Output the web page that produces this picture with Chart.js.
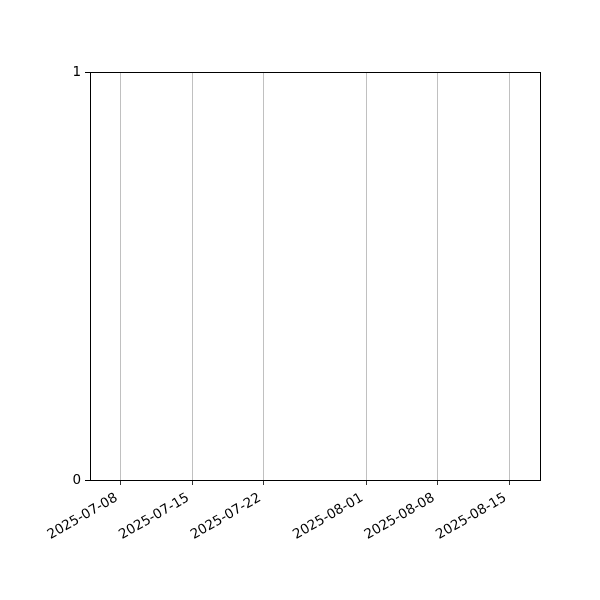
<!DOCTYPE html>
<html>
<head>
<meta charset="utf-8">
<script src="https://cdn.jsdelivr.net/npm/chart.js@4/dist/chart.umd.min.js"></script>
<style>
  body { margin: 0; background: #fff; }
  canvas { display: block; }
</style>
</head>
<body>
<canvas id="chart" width="600" height="600"></canvas>
<script>
// Axis range and tick dates (empty plot, no series)
const xRange = ['2025-07-05', '2025-08-18'];
const xTickDates = ['2025-07-08', '2025-07-15', '2025-07-22', '2025-08-01', '2025-08-08', '2025-08-15'];
const yTicks = [0, 1];
const seriesValues = [];

const DAY = 86400000;
const base = Date.parse(xRange[0]);
function toDay(s) { return (Date.parse(s) - base) / DAY; }

// top and right spines
const frame = {
    id: 'frame',
    afterDraw(chart) {
        const a = chart.chartArea;
        const c = chart.ctx;
        c.save();
        c.strokeStyle = '#000';
        c.lineWidth = 1;
        c.strokeRect(a.left + 0.5, a.top + 0.5, a.right - a.left, a.bottom - a.top);
        c.restore();
    }
};

new Chart(document.getElementById('chart'), {
    type: 'scatter',
    data: { datasets: [{ data: seriesValues }] },
    options: {
        responsive: false,
        animation: false,
        layout: { padding: { left: 0, top: 72, right: 60, bottom: 0 } },
        plugins: { legend: { display: false }, tooltip: { enabled: false } },
        scales: {
            x: {
                type: 'linear',
                min: 0,
                max: toDay(xRange[1]),
                afterBuildTicks(scale) {
                    scale.ticks = xTickDates.map(d => ({ value: toDay(d) }));
                },
                afterFit(scale) { scale.height = 120; },
                ticks: {
                    autoSkip: false,
                    minRotation: 30,
                    maxRotation: 30,
                    padding: 5,
                    labelOffset: -4,
                    color: '#000',
                    font: { family: 'DejaVu Sans', size: 13.5 },
                    callback: (v, i) => xTickDates[i]
                },
                grid: {
                    color: '#b0b0b0',
                    lineWidth: 0.8,
                    tickColor: '#000',
                    tickLength: 5
                },
                border: { color: '#000', width: 1 }
            },
            y: {
                min: 0,
                max: 1,
                afterBuildTicks(scale) {
                    scale.ticks = yTicks.map(v => ({ value: v }));
                },
                afterFit(scale) { scale.width = 90; },
                ticks: {
                    padding: 4,
                    color: '#000',
                    font: { family: 'DejaVu Sans', size: 13.5 },
                    callback: v => String(v)
                },
                grid: {
                    drawOnChartArea: false,
                    tickColor: '#000',
                    tickLength: 5
                },
                border: { color: '#000', width: 1 }
            }
        }
    },
    plugins: [frame]
});
</script>
</body>
</html>
